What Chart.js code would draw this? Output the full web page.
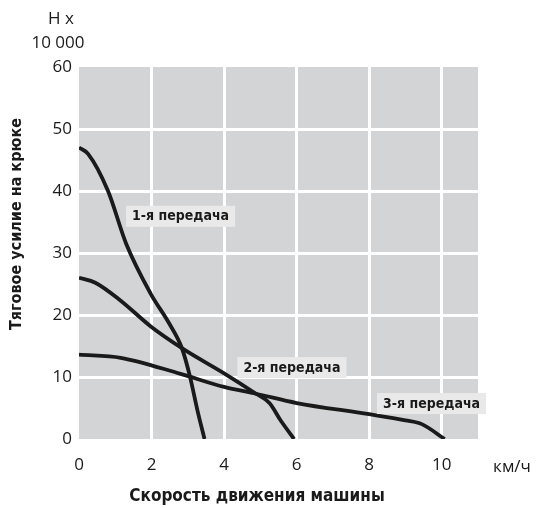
<!DOCTYPE html>
<html><head><meta charset="utf-8">
<script src="https://cdn.jsdelivr.net/npm/chart.js@4/dist/chart.umd.min.js"></script>
<style>html,body{margin:0;padding:0;background:#fff}#wrap{width:536px;height:508px}</style>
</head><body><div id="wrap"><canvas id="c" width="536" height="508"></canvas></div>
<script>
const xTicks = [0, 2, 4, 6, 8, 10];
const yTicks = [0, 10, 20, 30, 40, 50, 60];
const gear1X = [0, 0.25, 0.8, 1.3, 1.97, 2.5, 2.84, 3.05, 3.27, 3.46];
const gear1Y = [47, 46, 40, 31.5, 23.5, 18.5, 14.6, 10.3, 4.5, 0];
const gear2X = [0, 0.45, 1.15, 1.97, 2.88, 4.0, 4.88, 5.25, 5.57, 5.93];
const gear2Y = [26, 25.2, 22.3, 18.2, 14.5, 10.6, 7.3, 5.8, 2.9, 0];
const gear3X = [0, 1.15, 2.8, 4.0, 4.88, 6.0, 8.0, 9.0, 9.45, 10.08];
const gear3Y = [13.6, 13.1, 10.5, 8.4, 7.3, 5.8, 4.0, 3.0, 2.4, 0];
const labelTexts = ['1-я передача', '2-я передача', '3-я передача'];
const labelX = [2.8, 5.87, 9.72];
const labelY = [36, 11.6, 5.8];
const xTitle = 'Скорость движения машины';
const yTitle = 'Тяговое усилие на крюке';
const unitTop = ['Н х', '10 000'];
const xUnit = 'км/ч';

const boldFont = '"Liberation Sans Narrow", "DejaVu Sans Condensed", sans-serif';
const tickFont = '"Open Sans", sans-serif';

function pts(xs, ys){ return xs.map((x,i)=>({x:x, y:ys[i]})); }

const bgPlugin = {
  id:'bg',
  beforeDraw(chart){
    const {ctx, chartArea:a} = chart;
    ctx.save();
    ctx.fillStyle = '#d3d4d6';
    ctx.fillRect(a.left, a.top, a.right-a.left, a.bottom-a.top);
    ctx.restore();
  },
  afterDraw(chart){
    const {ctx, scales} = chart;
    ctx.save();
    ctx.font = 'bold 14px ' + boldFont;
    ctx.textBaseline = 'middle';
    ctx.textAlign = 'center';
    labelTexts.forEach((t,i)=>{
      const px = scales.x.getPixelForValue(labelX[i]);
      const py = scales.y.getPixelForValue(labelY[i]);
      const w = ctx.measureText(t).width + 12;
      ctx.fillStyle = '#e9e9ea';
      ctx.fillRect(px - w/2, py - 10, w, 21);
      ctx.fillStyle = '#1a1a1a';
      ctx.fillText(t, px, py + 1);
    });
    ctx.font = 'bold 17px ' + boldFont;
    ctx.fillStyle = '#1a1a1a';
    ctx.fillText(xTitle, 257, 497);
    ctx.save();
    ctx.translate(17, 224);
    ctx.rotate(-Math.PI/2);
    ctx.font = 'bold 16px ' + boldFont;
    ctx.fillText(yTitle, 0, 0);
    ctx.restore();
    ctx.font = '17px ' + tickFont;
    ctx.fillStyle = '#1a1a1a';
    ctx.fillText(unitTop[0], 61, 19);
    ctx.fillText(unitTop[1], 58, 43);
    ctx.fillText(xUnit, 512, 467);
    ctx.restore();
  }
};

const lineStyle = {borderColor:'#1a1a1a', borderWidth:3.8, pointRadius:0, showLine:true, fill:false, cubicInterpolationMode:'monotone'};

new Chart(document.getElementById('c'), {
  type:'scatter',
  data:{datasets:[
    Object.assign({label:labelTexts[0], data:pts(gear1X, gear1Y)}, lineStyle),
    Object.assign({label:labelTexts[1], data:pts(gear2X, gear2Y)}, lineStyle),
    Object.assign({label:labelTexts[2], data:pts(gear3X, gear3Y)}, lineStyle)
  ]},
  options:{
    responsive:false, animation:false,
    layout:{padding:{left:0, top:67, right:58, bottom:0}},
    plugins:{legend:{display:false}, tooltip:{enabled:false}},
    scales:{
      x:{type:'linear', min:0, max:11,
        afterBuildTicks(s){ s.ticks = xTicks.map(v=>({value:v})); },
        afterFit(s){ s.height = 69; },
        border:{display:false},
        grid:{color:c=> (c.tick && c.tick.value===0) ? 'rgba(0,0,0,0)' : '#ffffff', lineWidth:3, drawTicks:false},
        ticks:{padding:16, color:'#1a1a1a', font:{family:tickFont, size:17}, maxRotation:0}
      },
      y:{type:'linear', min:0, max:60,
        afterBuildTicks(s){ s.ticks = yTicks.map(v=>({value:v})); },
        afterFit(s){ s.width = 79; },
        border:{display:false},
        grid:{color:c=> (c.tick && (c.tick.value===0 || c.tick.value===60)) ? 'rgba(0,0,0,0)' : '#ffffff', lineWidth:3, drawTicks:false},
        ticks:{padding:7, color:'#1a1a1a', font:{family:tickFont, size:17}}
      }
    }
  },
  plugins:[bgPlugin]
});
</script></body></html>
